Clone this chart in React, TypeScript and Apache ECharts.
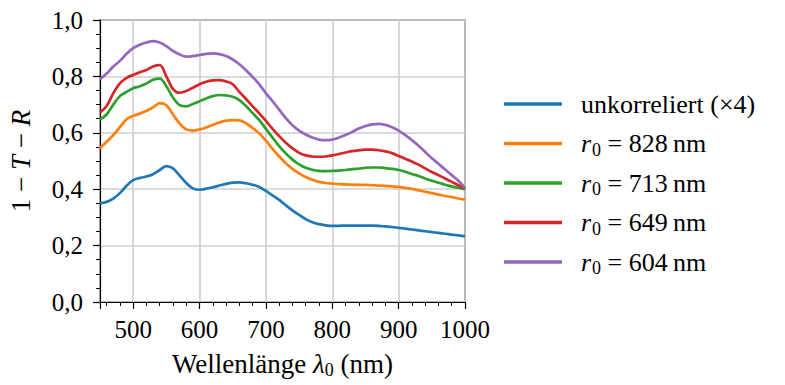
import React, { useEffect, useRef } from "react";
import * as echarts from "echarts";

// wavelength grid (nm)
const wavelengths = [
  450, 460, 470, 480, 490, 500, 510, 520, 530, 540, 550, 560, 570, 580, 590, 600,
  610, 620, 630, 640, 650, 660, 670, 680, 690, 700, 710, 720, 730, 740, 750, 760,
  770, 780, 790, 800, 810, 820, 830, 840, 850, 860, 870, 880, 890, 900, 910, 920,
  930, 940, 950, 960, 970, 980, 990, 1000,
];

// uncorrelated sample, scaled by 4
const uncorrelated = [
  0.350, 0.355, 0.367, 0.386, 0.412, 0.432, 0.440, 0.445, 0.453, 0.468, 0.482, 0.474, 0.448, 0.422, 0.403, 0.398,
  0.402, 0.407, 0.413, 0.419, 0.423, 0.424, 0.421, 0.416, 0.408, 0.394, 0.378, 0.362, 0.343, 0.325, 0.309, 0.294,
  0.283, 0.276, 0.272, 0.270, 0.270, 0.271, 0.271, 0.271, 0.271, 0.271, 0.270, 0.268, 0.266, 0.263, 0.260, 0.257,
  0.254, 0.251, 0.248, 0.245, 0.242, 0.239, 0.236, 0.233,
];

const r828 = [
  0.545, 0.568, 0.592, 0.620, 0.648, 0.660, 0.668, 0.678, 0.690, 0.705, 0.698, 0.665, 0.633, 0.612, 0.608, 0.612,
  0.619, 0.628, 0.637, 0.643, 0.645, 0.644, 0.634, 0.617, 0.598, 0.572, 0.543, 0.516, 0.492, 0.472, 0.456, 0.443,
  0.433, 0.426, 0.422, 0.420, 0.418, 0.417, 0.416, 0.415, 0.415, 0.414, 0.413, 0.412, 0.410, 0.408, 0.405, 0.401,
  0.396, 0.391, 0.386, 0.381, 0.376, 0.372, 0.367, 0.363,
];

const r713 = [
  0.648, 0.665, 0.700, 0.730, 0.745, 0.758, 0.765, 0.775, 0.788, 0.792, 0.765, 0.725, 0.698, 0.694, 0.702, 0.712,
  0.722, 0.730, 0.734, 0.733, 0.728, 0.716, 0.695, 0.670, 0.645, 0.614, 0.583, 0.553, 0.527, 0.505, 0.488, 0.476,
  0.469, 0.465, 0.464, 0.465, 0.466, 0.468, 0.471, 0.473, 0.476, 0.477, 0.477, 0.475, 0.472, 0.468, 0.462, 0.454,
  0.447, 0.438, 0.430, 0.423, 0.416, 0.410, 0.405, 0.400,
];

const r649 = [
  0.672, 0.695, 0.740, 0.775, 0.795, 0.805, 0.815, 0.823, 0.835, 0.840, 0.800, 0.755, 0.742, 0.748, 0.760, 0.772,
  0.781, 0.786, 0.787, 0.782, 0.772, 0.745, 0.720, 0.694, 0.669, 0.642, 0.614, 0.588, 0.565, 0.545, 0.529, 0.520,
  0.516, 0.515, 0.516, 0.520, 0.525, 0.530, 0.535, 0.538, 0.540, 0.540, 0.538, 0.534, 0.528, 0.518, 0.508, 0.498,
  0.487, 0.474, 0.461, 0.450, 0.438, 0.426, 0.414, 0.402,
];

const r604 = [
  0.790, 0.810, 0.835, 0.855, 0.880, 0.900, 0.912, 0.920, 0.925, 0.920, 0.907, 0.890, 0.878, 0.870, 0.872, 0.876,
  0.880, 0.882, 0.879, 0.872, 0.860, 0.843, 0.822, 0.798, 0.772, 0.740, 0.712, 0.682, 0.652, 0.627, 0.608, 0.594,
  0.583, 0.576, 0.574, 0.576, 0.583, 0.592, 0.603, 0.615, 0.624, 0.630, 0.632, 0.628, 0.620, 0.608, 0.592, 0.574,
  0.554, 0.532, 0.510, 0.490, 0.470, 0.450, 0.430, 0.405,
];

const seriesNames = ["unkorreliert (×4)", "r0 = 828 nm", "r0 = 713 nm", "r0 = 649 nm", "r0 = 604 nm"];
const seriesValues = [uncorrelated, r828, r713, r649, r604];
const colors = ["#1f77b4", "#ff7f0e", "#2ca02c", "#d62728", "#9467bd"];

const FONT = "Liberation Serif";

export default function App() {
  const ref = useRef<HTMLDivElement>(null);

  useEffect(() => {
    if (!ref.current) return;
    const chart = echarts.init(ref.current, null, { renderer: "svg" });

    const series = seriesNames.map((name, i) => ({
      name,
      type: "line",
      data: wavelengths.map((w, j) => [w, seriesValues[i][j]]),
      showSymbol: false,
      smooth: 0.35,
      lineStyle: { width: 2.7, color: colors[i] },
      itemStyle: { color: colors[i] },
      z: 3 + i,
    }));

    const decimalComma = (v: number) => v.toFixed(1).replace(".", ",");

    chart.setOption({
      animation: false,
      textStyle: { fontFamily: FONT },
      grid: {
        left: 100,
        top: 20,
        width: 365,
        height: 282,
        show: true,
        borderColor: "#000",
        borderWidth: 1.2,
        backgroundColor: "transparent",
      },
      legend: {
        orient: "vertical",
        left: 499,
        top: 84,
        icon: "rect",
        itemWidth: 58,
        itemHeight: 3.5,
        itemGap: 9.5,
        data: seriesNames,
        formatter: (name: string) => {
          if (name.startsWith("r0")) {
            const val = name.replace("r0 = ", "").replace(" nm", "");
            return `{i|r}{sub|0}{t| = ${val}\u2009nm}`;
          }
          return `{t|unkorreliert (×4)}`;
        },
        textStyle: {
          fontFamily: FONT,
          fontSize: 26,
          color: "#000",
          padding: [0, 0, 0, 14],
          lineHeight: 30,
          rich: {
            t: { fontFamily: FONT, fontSize: 26, color: "#000", lineHeight: 30 },
            i: { fontFamily: FONT, fontSize: 26, fontStyle: "italic", color: "#000", lineHeight: 30 },
            sub: { fontFamily: FONT, fontSize: 18, color: "#000", lineHeight: 30, padding: [12, 0, 0, 1] },
          },
        },
      },
      xAxis: {
        type: "value",
        min: 450,
        max: 1000,
        splitNumber: 5,
        name: "Wellenlänge {i|λ}{sub|0} (nm)",
        nameLocation: "middle",
        nameGap: 47,
        nameTextStyle: {
          fontFamily: FONT,
          fontSize: 27,
          color: "#000",
          rich: {
            i: { fontFamily: FONT, fontSize: 27, fontStyle: "italic", color: "#000" },
            sub: { fontFamily: FONT, fontSize: 18, color: "#000", padding: [12, 0, 0, 0] },
          },
        },
        axisLine: { show: true, lineStyle: { color: "#000", width: 1.2 } },
        axisTick: { show: true, inside: false, length: 7, lineStyle: { color: "#000", width: 1.2 } },
        minorTick: { show: true, splitNumber: 5, length: 4, lineStyle: { color: "#000", width: 1 } },
        axisLabel: {
          fontFamily: FONT,
          fontSize: 25,
          color: "#000",
          margin: 15,
          showMinLabel: false,
          formatter: (v: number) => (v % 100 === 0 ? String(v) : ""),
        },
        splitLine: { show: true, lineStyle: { color: "#cfcfcf", width: 1.6 } },
      },
      yAxis: {
        type: "value",
        min: 0,
        max: 1,
        interval: 0.2,
        name: "1 − {i|T} − {i|R}",
        nameLocation: "middle",
        nameRotate: 90,
        nameGap: 66,
        nameTextStyle: {
          fontFamily: FONT,
          fontSize: 27,
          color: "#000",
          rich: {
            i: { fontFamily: FONT, fontSize: 27, fontStyle: "italic", color: "#000" },
          },
        },
        axisLine: { show: true, lineStyle: { color: "#000", width: 1.2 } },
        axisTick: { show: true, inside: false, length: 7, lineStyle: { color: "#000", width: 1.2 } },
        minorTick: { show: true, splitNumber: 4, length: 4, lineStyle: { color: "#000", width: 1 } },
        axisLabel: {
          fontFamily: FONT,
          fontSize: 25,
          color: "#000",
          margin: 17,
          formatter: decimalComma,
        },
        splitLine: { show: true, lineStyle: { color: "#cfcfcf", width: 1.6 } },
      },
      series,
    });

    return () => chart.dispose();
  }, []);

  return <div ref={ref} style={{ width: 785, height: 385, position: "absolute", left: 0, top: 0 }} />;
}
